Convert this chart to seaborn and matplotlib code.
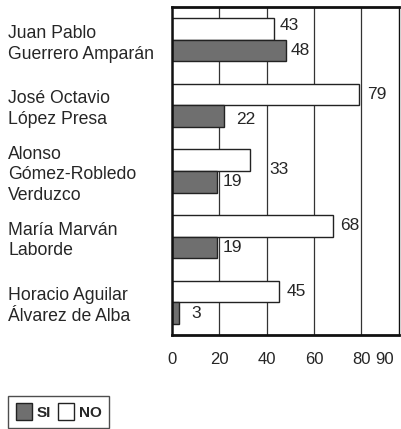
import pandas as pd
import matplotlib
matplotlib.use("Agg")
import matplotlib.pyplot as plt
import seaborn as sns
from matplotlib.patches import Patch

# ----------------------------------------------------------------------
# Data
# ----------------------------------------------------------------------
candidates = [
    "Juan Pablo\nGuerrero Amparán",
    "José Octavio\nLópez Presa",
    "Alonso\nGómez-Robledo\nVerduzco",
    "María Marván\nLaborde",
    "Horacio Aguilar\nÁlvarez de Alba",
]
si_values = [48, 22, 19, 19, 3]
no_values = [43, 79, 33, 68, 45]
x_ticks = [0, 20, 40, 60, 80, 90]
grid_lines = [20, 40, 60, 80]

df = pd.DataFrame({
    "candidato": candidates * 2,
    "respuesta": ["NO"] * len(candidates) + ["SI"] * len(candidates),
    "valor": no_values + si_values,
})

# ----------------------------------------------------------------------
# Plot
# ----------------------------------------------------------------------
sns.set_style("white")
plt.rcParams["font.family"] = ["Liberation Sans", "DejaVu Sans"]

fig = plt.figure(figsize=(4.02, 4.29), dpi=100)
ax = fig.add_axes([0.428, 0.219, 0.565, 0.765])

colors = {"NO": "white", "SI": "#6f6f6f"}
sns.barplot(data=df, y="candidato", x="valor", hue="respuesta",
            hue_order=["NO", "SI"], palette=colors, orient="h",
            width=0.66, edgecolor="#222222", linewidth=1.0,
            ax=ax, legend=False, errorbar=None)

for g in grid_lines:
    ax.axvline(g, color="#333333", lw=0.9, zorder=0)

# value labels, extra offsets copy the loose placement of the original
no_dx = [2.5, 3.5, 8, 3, 3.5]
si_dx = [2, 5, 2.5, 2.5, 5]
no_dy = [-0.05, 0, 0.15, 0, 0]
si_dy = [0, 0.05, 0, 0, 0]
for i in range(len(candidates)):
    ax.text(no_values[i] + no_dx[i], i - 0.165 + no_dy[i], str(no_values[i]),
            va="center", ha="left", fontsize=12.5)
    ax.text(si_values[i] + si_dx[i], i + 0.165 + si_dy[i], str(si_values[i]),
            va="center", ha="left", fontsize=12.5)

ax.set_xlim(0, 96)
ax.set_xticks(x_ticks)
ax.set_xticklabels([str(t) for t in x_ticks], fontsize=12)
ax.tick_params(axis="x", length=0, pad=12)
ax.tick_params(axis="y", length=0, pad=118)
for lbl in ax.get_yticklabels():
    lbl.set_horizontalalignment("left")
    lbl.set_fontsize(12.7)
    lbl.set_linespacing(1.3)
ax.set_xlabel("")
ax.set_ylabel("")

for side, lw in [("top", 2.0), ("bottom", 2.0), ("left", 1.8), ("right", 1.0)]:
    ax.spines[side].set_visible(True)
    ax.spines[side].set_linewidth(lw)
    ax.spines[side].set_color("#111111")

handles = [Patch(facecolor="#6f6f6f", edgecolor="#222222", label="SI"),
           Patch(facecolor="white", edgecolor="#222222", label="NO")]
leg = fig.legend(handles=handles, loc="lower left", bbox_to_anchor=(0.02, 0.003),
                 borderaxespad=0, ncol=2, frameon=True, fancybox=False,
                 handlelength=1.1, handleheight=1.3, handletextpad=0.3,
                 columnspacing=0.4, borderpad=0.5,
                 prop={"weight": "bold", "size": 11})
leg.get_frame().set_edgecolor("#222222")
leg.get_frame().set_linewidth(1.0)

fig.savefig("out.png", dpi=100)
